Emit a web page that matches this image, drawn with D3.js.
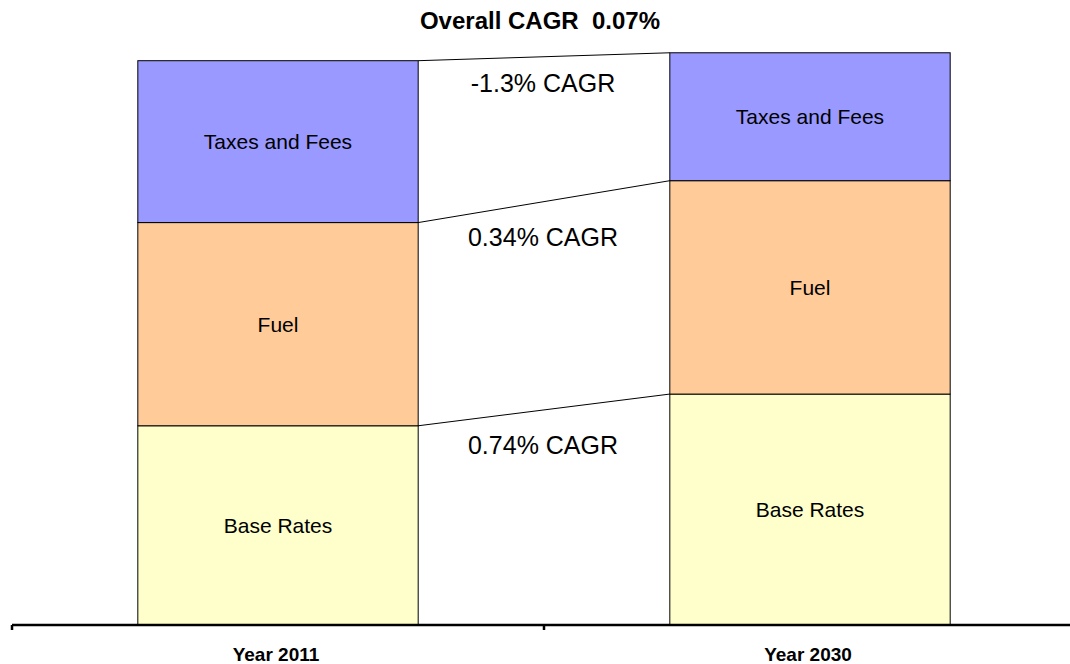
<!DOCTYPE html>
<html>
<head>
<meta charset="utf-8">
<script src="https://cdn.jsdelivr.net/npm/d3@7"></script>
<style>
  body { margin: 0; background: #fff; }
  svg { font-family: Arial, "Liberation Sans", sans-serif; }
</style>
</head>
<body>
<svg id="chart"></svg>
<script>
// data
var years = ["Year 2011", "Year 2030"];
var segments = ["Base Rates", "Fuel", "Taxes and Fees"];
var baseRates = [3.52, 4.08];
var fuel = [3.59, 3.77];
var taxes = [2.86, 2.26];
var cagrLabels = ["0.74% CAGR", "0.34% CAGR", "-1.3% CAGR"];
var title = "Overall CAGR\u00a0\u00a00.07%";

var colors = ["#FFFFCC", "#FFCC99", "#9999FF"];

var svgWidth = 1070, svgHeight = 664;
var baseY = 625;

var svg = d3.select("#chart")
    .attr("width", svgWidth)
    .attr("height", svgHeight);

var xScale = d3.scaleBand()
    .domain(years)
    .range([12, 1076])
    .padding(0);
var barW = xScale.bandwidth() * 0.527;

var yScale = d3.scaleLinear()
    .domain([0, 10])
    .range([baseY, baseY - 566]);

// stack the series
var table = years.map(function(y, i) {
    return { year: y, "Base Rates": baseRates[i], "Fuel": fuel[i], "Taxes and Fees": taxes[i] };
});
var stacked = d3.stack().keys(segments)(table);

function barX(year) { return xScale(year) + (xScale.bandwidth() - barW) / 2; }

var layers = svg.selectAll("g.layer")
    .data(stacked)
    .enter().append("g")
    .attr("class", "layer")
    .attr("fill", function(d, i) { return colors[i]; });

layers.selectAll("rect")
    .data(function(d) { return d; })
    .enter().append("rect")
    .attr("x", function(d) { return barX(d.data.year); })
    .attr("y", function(d) { return yScale(d[1]); })
    .attr("width", barW)
    .attr("height", function(d) { return yScale(d[0]) - yScale(d[1]); })
    .attr("stroke", "#000")
    .attr("stroke-width", 1);

layers.selectAll("text")
    .data(function(d) { return d.map(function(p) { return { p: p, key: d.key }; }); })
    .enter().append("text")
    .attr("x", function(d) { return barX(d.p.data.year) + barW / 2; })
    .attr("y", function(d) { return (yScale(d.p[0]) + yScale(d.p[1])) / 2; })
    .attr("dy", "0.35em")
    .attr("text-anchor", "middle")
    .attr("font-size", 21)
    .attr("fill", "#000")
    .text(function(d) { return d.key; });

// connector lines between segment tops
var x1 = barX(years[0]) + barW, x2 = barX(years[1]);
svg.selectAll("line.conn")
    .data(stacked)
    .enter().append("line")
    .attr("class", "conn")
    .attr("x1", x1)
    .attr("x2", x2)
    .attr("y1", function(d) { return yScale(d[0][1]); })
    .attr("y2", function(d) { return yScale(d[1][1]); })
    .attr("stroke", "#000")
    .attr("stroke-width", 1);

// CAGR labels
svg.selectAll("text.cagr")
    .data(stacked)
    .enter().append("text")
    .attr("class", "cagr")
    .attr("x", (x1 + x2) / 2 - 1)
    .attr("y", function(d, i) {
        var mid = (yScale(d[0][1]) + yScale(d[1][1])) / 2;
        return mid + (i == stacked.length - 1 ? 35 : 44);
    })
    .attr("text-anchor", "middle")
    .attr("font-size", 25)
    .attr("fill", "#000")
    .text(function(d, i) { return cagrLabels[i]; });

// axis
var axis = svg.append("g").attr("class", "axis");
axis.append("line")
    .attr("x1", 12)
    .attr("x2", svgWidth)
    .attr("y1", baseY)
    .attr("y2", baseY)
    .attr("stroke", "#000")
    .attr("stroke-width", 2.5);
axis.selectAll("line.tick")
    .data(years)
    .enter().append("line")
    .attr("class", "tick")
    .attr("x1", function(d) { return xScale(d); })
    .attr("x2", function(d) { return xScale(d); })
    .attr("y1", baseY)
    .attr("y2", baseY + 5)
    .attr("stroke", "#000")
    .attr("stroke-width", 2.5);
axis.selectAll("text")
    .data(years)
    .enter().append("text")
    .attr("x", function(d) { return xScale(d) + xScale.bandwidth() / 2 - 2; })
    .attr("y", 661)
    .attr("text-anchor", "middle")
    .attr("font-size", 19)
    .attr("font-weight", "bold")
    .text(function(d) { return d; });

// title
svg.append("text")
    .attr("x", 540)
    .attr("y", 29)
    .attr("text-anchor", "middle")
    .attr("font-size", 24)
    .attr("font-weight", "bold")
    .text(title);
</script>
</body>
</html>
